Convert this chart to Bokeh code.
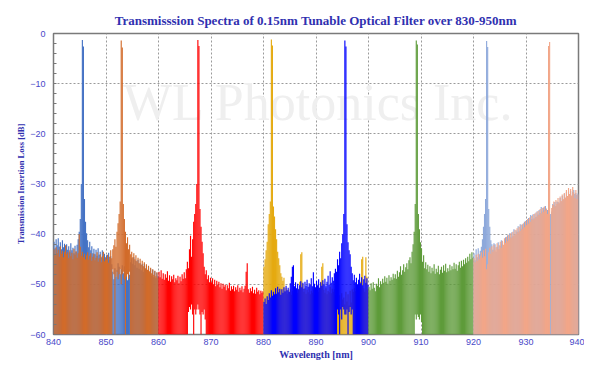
from bokeh.plotting import figure
from bokeh.models import Range1d, SingleIntervalTicker, FixedTicker
from bokeh.core.properties import value
from bokeh.embed import file_html
from bokeh.resources import INLINE

# ---------------- data (dB values every 0.2 nm) ----------------
step = 0.2
x_ticks = [840, 850, 860, 870, 880, 890, 900, 910, 920, 930, 940]
y_ticks = [0, -10, -20, -30, -40, -50, -60]

blue1_start = 840.1
blue1_db = [-41.5, -42.8, -41.0, -42.2, -40.8, -42.5, -41.6, -43.0, -41.2, -42.6,
            -41.9, -43.4, -42.0, -43.1, -42.4, -43.6, -41.8, -43.2, -42.7, -43.8,
            -42.3, -43.5, -42.1, -41.0, -39.5, -37.0, -30.0, -1.3, -2.6, -33.0,
            -37.5, -39.8, -41.2, -42.6, -41.5, -43.2, -42.4, -43.8, -42.9, -44.0,
            -43.1, -44.3, -42.8, -44.1, -43.5, -44.6, -43.2, -44.8, -43.9, -45.0,
            -44.2, -45.3, -43.7, -45.1, -44.4, -46.0, -47.5, -49.0, -46.8, -48.5,
            -47.2, -45.8, -46.5, -48.0, -47.0, -46.2, -47.8, -46.4, -48.6, -47.3,
            -49.2, -46.9, -48.1, -45.6, -44.8, -45.9, -44.6, -46.2, -45.3, -46.7,
            -45.1, -46.9, -45.8, -47.2, -46.0, -47.5, -45.9, -47.0, -46.3, -47.8,
            -46.6, -48.0, -46.9, -48.3, -47.1, -48.6, -47.4, -48.8, -47.7, -48.4]

orange_start = 840.1
orange_db = [-43.0, -44.2, -42.6, -43.8, -43.1, -44.5, -42.4, -43.9, -43.3, -44.6,
             -43.5, -42.2, -44.0, -43.6, -44.8, -43.2, -44.4, -43.7, -45.0, -42.9,
             -44.1, -43.4, -44.7, -43.8, -40.0, -42.5, -44.3, -43.5, -44.6, -43.9,
             -45.0, -44.2, -43.6, -45.1, -44.3, -43.8, -45.3, -44.5, -43.9, -45.2,
             -44.7, -43.6, -45.5, -44.8, -44.0, -45.6, -44.4, -43.5, -45.4, -44.6,
             -45.0, -44.1, -45.7, -44.5, -43.2, -44.8, -43.0, -42.2, -41.0, -42.5,
             -39.5, -37.8, -36.0, -33.5, -1.4, -2.8, -34.0, -37.0, -39.5, -41.8,
             -40.6, -43.0, -42.1, -44.0, -43.5, -44.6, -43.8, -45.0, -44.2, -45.4,
             -44.7, -45.8, -44.9, -46.1, -45.3, -46.4, -45.6, -46.8, -46.0, -47.1,
             -46.3, -47.4, -46.7, -47.8, -47.0, -48.1, -47.3, -48.4, -47.6, -48.7]
orange_notch_start = 851.3
orange_notch_floor = [-47.0, -48.0, -60.0, -48.5, -47.5, -49.0, -48.0, -47.0, -50.0,
                      -48.0, -47.5, -49.0, -60.0, -48.5, -48.0, -49.0, -47.5]

red_start = 860.1
red_db = [-47.5, -48.6, -47.2, -48.9, -47.8, -49.1, -48.0, -48.7, -47.4, -49.3,
          -48.2, -49.5, -48.4, -49.0, -48.1, -49.6, -48.8, -49.2, -48.3, -49.8,
          -48.5, -49.4, -48.0, -48.9, -47.6, -48.8, -47.0, -45.5, -46.8, -43.0,
          -40.3, -44.5, -41.0, -37.5, -36.0, -34.0, -30.0, -1.3, -2.5, -35.0,
          -38.5, -41.5, -43.8, -46.5, -48.0, -47.2, -49.0, -48.2, -49.6, -48.7,
          -49.6, -48.8, -50.0, -49.1, -50.4, -49.3, -50.1, -49.5, -50.6, -49.8,
          -50.9, -49.9, -50.5, -50.1, -51.2, -50.2, -50.8, -49.7, -51.3, -50.4,
          -51.0, -50.3, -51.4, -50.6, -51.1, -50.2, -51.5, -50.7, -51.2, -50.4,
          -51.6, -50.9, -50.3, -47.5, -45.8, -51.0, -51.7, -50.8, -51.4, -50.5,
          -51.8, -51.1, -51.9, -50.7, -51.5, -51.2, -52.0, -51.3, -51.7, -51.4]
red_notch_start = 865.7
red_notch_floor = [-55.5, -54.5, -55.0, -54.0, -56.0, -60.0, -55.0, -56.0, -55.0,
                   -54.0, -55.0, -56.0, -60.0, -55.5, -56.0, -55.0, -57.0]

gold_start = 880.1
gold_db = [-46.5, -45.0, -43.2, -41.5, -38.0, -36.0, -33.5, -1.2, -2.4, -34.5,
           -36.5, -39.0, -41.0, -43.5, -44.8, -46.2, -47.8, -48.5, -49.3, -48.7,
           -51.5, -50.7, -51.9, -51.1, -51.6, -51.0, -52.1, -51.3, -51.8, -50.6,
           -52.0, -51.2, -51.7, -50.9, -49.5, -44.0, -43.6, -50.0, -51.5, -50.8,
           -51.9, -51.1, -51.6, -50.5, -52.0, -51.3, -51.7, -50.9, -52.1, -51.2,
           -51.8, -51.0, -51.5, -50.7, -49.5, -46.5, -45.8, -51.1, -51.7, -50.8,
           -52.0, -51.3, -51.6, -50.5, -51.8, -50.9, -51.5, -51.0, -52.1, -52.5,
           -52.5, -53.8, -52.2, -54.5, -51.8, -53.0, -52.6, -54.0, -51.5, -53.4,
           -52.0, -54.2, -51.3, -53.6, -51.0, -51.5, -50.8, -51.4, -50.6, -51.2,
           -50.1, -51.0, -49.5, -45.0, -44.5, -50.8, -51.5, -44.6, -48.5, -51.0]

blue2_start = 880.1
blue2_db = [-53.5, -52.8, -53.9, -52.4, -53.1, -51.8, -52.6, -51.2, -52.3, -51.5,
            -52.0, -50.8, -51.9, -50.5, -51.6, -50.9, -52.1, -51.0, -51.7, -50.6,
            -51.4, -50.3, -51.2, -50.7, -51.5, -49.8, -48.5, -46.5, -46.2, -50.4,
            -49.6, -50.8, -49.9, -51.0, -50.2, -49.4, -50.6, -49.7, -50.9, -49.5,
            -50.3, -49.1, -50.5, -49.8, -50.1, -48.8, -50.4, -47.6, -49.9, -50.6,
            -49.3, -50.2, -49.0, -50.7, -49.6, -50.3, -49.2, -50.0, -48.9, -50.4,
            -49.5, -48.3, -50.1, -47.4, -49.7, -48.6, -49.3, -47.8, -46.9, -47.5,
            -45.0, -46.2, -43.5, -44.8, -41.8, -40.0, -36.0, -1.4, -2.6, -38.0,
            -41.6, -43.2, -44.0, -46.5, -47.8, -49.2, -48.1, -49.6, -48.7, -50.0,
            -49.1, -47.9, -49.8, -48.6, -50.2, -49.0, -48.3, -49.7, -48.8, -50.1]
blue2_notch_start = 894.1
blue2_notch_floor = [-55.0, -56.0, -60.0, -55.0, -57.0, -54.5, -55.0, -56.0,
                     -56.0, -55.0, -60.0, -55.5, -54.5, -56.0, -55.0]

green_start = 900.1
green_db = [-50.5, -51.2, -49.8, -50.9, -49.6, -50.7, -51.4, -49.9, -50.3, -48.8,
            -50.6, -49.4, -50.0, -48.9, -49.7, -48.4, -49.5, -48.7, -49.9, -48.2,
            -49.3, -48.6, -49.1, -47.9, -48.8, -48.0, -48.9, -47.3, -48.5, -47.6,
            -46.4, -48.1, -47.2, -46.0, -47.5, -46.6, -45.8, -47.0, -45.2, -44.6,
            -45.8, -43.5, -42.0, -39.5, -34.0, -1.4, -2.2, -36.0, -39.0, -41.6,
            -42.8, -45.5, -44.2, -46.8, -45.6, -47.0, -46.1, -47.5, -46.4, -47.8,
            -46.7, -47.4, -46.0, -47.9, -46.9, -47.6, -46.3, -48.0, -47.1, -46.5,
            -47.7, -46.2, -47.3, -45.9, -47.6, -46.8, -47.4, -46.1, -47.2, -46.4,
            -47.0, -45.7, -46.9, -46.0, -47.3, -46.2, -45.5, -46.7, -45.3, -46.4,
            -45.1, -46.0, -44.8, -45.7, -44.5, -45.4, -43.9, -45.0, -43.6, -44.7]
green_notch_start = 908.9
green_notch_floor = [-56.0, -57.0, -56.0, -56.5, -57.0, -56.0, -57.5]

lightblue_start = 920.1
lightblue_db = [-43.8, -45.2, -43.0, -44.6, -42.8, -44.0, -43.3, -42.5, -41.0, -38.5,
                -36.0, -33.0, -1.5, -2.7, -35.0, -38.5, -41.2, -42.0, -43.1, -41.8,
                -42.0, -43.5, -42.5, -41.6, -43.0, -42.3, -41.2, -42.0, -42.8, -41.5,
                -40.6, -41.5, -40.2, -41.0, -39.8, -40.6, -39.6, -40.4, -39.0, -40.2,
                -39.2, -39.5, -38.4, -39.4, -38.0, -38.9, -38.0, -38.6, -37.5, -38.3,
                -37.2, -37.8, -36.8, -37.5, -36.2, -37.0, -36.1, -36.9, -35.9, -36.6,
                -35.5, -36.1, -35.2, -35.8, -34.6, -35.5, -34.7, -35.2, -34.4, -35.4,
                -35.2, -35.8, -36.2, -36.0, -35.5, -34.0, -34.2, -33.6, -34.4, -33.5,
                -33.6, -33.9, -32.8, -33.5, -32.4, -33.2, -32.0, -32.9, -31.6, -32.6,
                -31.5, -32.2, -31.4, -32.5, -31.6, -31.2, -32.0, -31.8, -32.2, -31.9]

salmon_start = 920.1
salmon_db = [-44.8, -45.6, -44.1, -45.3, -43.9, -45.0, -44.3, -43.6, -44.7, -43.2,
             -44.4, -42.9, -47.0, -46.0, -43.6, -42.7, -43.9, -42.4, -43.5, -42.1,
             -43.2, -42.6, -41.8, -43.0, -42.2, -41.5, -42.7, -41.3, -42.1, -40.8,
             -41.7, -40.5, -41.4, -40.1, -41.0, -39.8, -40.7, -39.5, -40.3, -39.1,
             -40.0, -38.8, -39.6, -38.5, -39.3, -38.1, -39.0, -37.8, -38.6, -37.4,
             -38.2, -37.0, -37.9, -36.7, -37.5, -36.4, -37.2, -36.0, -36.9, -35.7,
             -36.5, -35.4, -36.2, -35.0, -35.9, -34.8, -35.6, -34.5, -35.3, -34.9,
             -36.0, -2.5, -1.7, -70.0, -34.8, -34.2, -33.5, -34.5, -33.2, -34.0,
             -32.8, -33.7, -32.5, -33.4, -32.1, -33.0, -31.8, -32.7, -31.2, -32.4,
             -30.8, -32.0, -31.0, -32.3, -30.6, -31.7, -32.8, -31.2, -33.0, -32.1]

# ---------------- build figure ----------------
TITLE_BLUE = "#3030B0"
TICK_BLUE = "#4848C8"

p = figure(width=584, height=362, x_range=Range1d(840, 940), y_range=Range1d(-60, 0),
           output_backend="svg", toolbar_location=None,
           min_border_left=53, min_border_right=6, min_border_top=33, min_border_bottom=26,
           title="Transmisssion Spectra of 0.15nm Tunable Optical Filter over 830-950nm")
p.title.align = "center"
p.title.vertical_align = "top"
p.title.text_font = "Liberation Serif"
p.title.text_font_size = "13px"
p.title.text_color = TITLE_BLUE
p.title.text_font_style = "bold"
p.title.standoff = 8

p.background_fill_color = "white"
p.border_fill_color = "white"
p.outline_line_color = "#7a7a7a"
p.outline_line_width = 1.5

# watermark
p.text(x=[890.5], y=[-13.7], text=["WL Photonics Inc."], text_align="center",
       text_baseline="alphabetic", text_font=value("Liberation Serif"),
       text_font_size="52px", text_color="#efefef")


def add_series(start, vals, color, notch_start=None, notch_floor=None):
    xs = [start + i * step for i in range(len(vals))]
    bottoms = [-60.0] * len(vals)
    if notch_start is not None:
        k0 = int(round((notch_start - start) / step))
        for k, f in enumerate(notch_floor):
            bottoms[k0 + k] = f
    p.vbar(x=xs, width=step * 1.08, top=vals, bottom=bottoms,
           fill_color=color, line_color=None)


add_series(blue1_start, blue1_db, "#4472C4")
add_series(orange_start, orange_db, "#D26B2A", orange_notch_start, orange_notch_floor)
add_series(red_start, red_db, "#FF0000", red_notch_start, red_notch_floor)
add_series(gold_start, gold_db, "#E5AA10")
add_series(blue2_start, blue2_db, "#0000FF", blue2_notch_start, blue2_notch_floor)
add_series(green_start, green_db, "#5E9B3A", green_notch_start, green_notch_floor)
add_series(lightblue_start, lightblue_db, "#8EA9DB")
add_series(salmon_start, salmon_db, "#F2A688")

# axes
p.xaxis.ticker = FixedTicker(ticks=x_ticks)
p.yaxis.ticker = SingleIntervalTicker(interval=10, num_minor_ticks=5)
for ax in (p.xaxis[0], p.yaxis[0]):
    ax.axis_line_color = None
    ax.major_tick_line_color = None
    ax.major_tick_in = 0
    ax.major_tick_out = 0
    ax.minor_tick_out = 0
    ax.major_label_text_font = "Liberation Sans"
    ax.major_label_text_font_size = "9px"
    ax.major_label_text_color = TICK_BLUE
    ax.axis_label_text_font = "Liberation Serif"
    ax.axis_label_text_font_style = "bold"
    ax.axis_label_text_color = TITLE_BLUE
p.xaxis.minor_tick_line_color = None
p.xaxis.minor_tick_in = 0
p.yaxis.minor_tick_in = 3
p.yaxis.minor_tick_line_color = "#777777"
p.xaxis.axis_label = "Wavelength [nm]"
p.xaxis.axis_label_text_font_size = "10px"
p.xaxis.major_label_standoff = 4
p.xaxis.axis_label_standoff = 1
p.yaxis.axis_label = "Transmission Insertion Loss [dB]"
p.yaxis.axis_label_text_font_size = "8.5px"
p.yaxis.major_label_standoff = 8
p.yaxis.axis_label_standoff = 1

p.grid.grid_line_color = "#9a9a9a"
p.grid.grid_line_dash = "2 2"
p.grid.grid_line_width = 1
p.grid.level = "underlay"

open("out.html", "w").write(file_html(p, INLINE))
